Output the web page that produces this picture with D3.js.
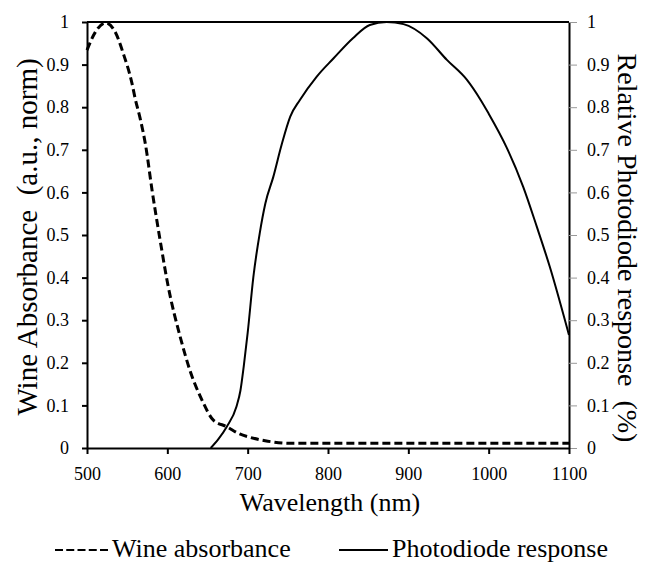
<!DOCTYPE html>
<html>
<head>
<meta charset="utf-8">
<script src="https://cdn.jsdelivr.net/npm/d3@7"></script>
</head>
<body style="margin:0">
<svg id="chart" width="647" height="563" font-family="Liberation Serif"></svg>
<script>
// Wine absorption spectrum (normalised)
const absWavelength = [500, 510, 523, 535, 545, 556, 560, 566, 573, 581, 591, 601, 616, 628, 643, 657, 674, 690, 703, 725, 752, 800, 900, 1000, 1100];
const absValue      = [0.934, 0.975, 0.998, 0.977, 0.927, 0.856, 0.82, 0.775, 0.71, 0.605, 0.488, 0.38, 0.261, 0.183, 0.113, 0.066, 0.05, 0.033, 0.025, 0.016, 0.011, 0.011, 0.011, 0.011, 0.011];

// Relative photodiode spectral response
const pdWavelength = [654, 664, 674, 686, 691, 695, 700, 707, 715, 722, 732, 742, 753, 765, 786, 807, 831, 852, 873, 894, 923, 948, 973, 990, 1000, 1022, 1043, 1060, 1076, 1100];
const pdValue      = [0, 0.022, 0.05, 0.097, 0.135, 0.19, 0.27, 0.40, 0.504, 0.574, 0.637, 0.71, 0.778, 0.817, 0.872, 0.915, 0.962, 0.993, 1.0, 0.995, 0.962, 0.911, 0.864, 0.817, 0.785, 0.707, 0.613, 0.519, 0.426, 0.265];

const xTicks = [500, 600, 700, 800, 900, 1000, 1100];
const yTicks = [0, 0.1, 0.2, 0.3, 0.4, 0.5, 0.6, 0.7, 0.8, 0.9, 1];
const yTickLabel = d => d === 0 ? "0" : d === 1 ? "1" : d3.format(".1f")(d);

const FONT = "Liberation Serif";

const svg = d3.select("#chart");
const L = 87, R = 569, T = 22, B = 448;

const x = d3.scaleLinear().domain([500, 1100]).range([L, R]);
const yL = d3.scaleLinear().domain([0, 1]).range([B, T]);
const yR = d3.scaleLinear().domain([0, 1]).range([B, T]);

// frame top line
svg.append("line").attr("x1", L).attr("x2", R).attr("y1", T).attr("y2", T)
  .attr("stroke", "#000").attr("stroke-width", 2);

function styleTicks(g) {
  g.attr("font-family", FONT).attr("font-size", 18);
  g.selectAll(".tick text").attr("font-family", FONT).attr("font-size", 18).attr("fill", "#000");
}

// left axis
const gL = svg.append("g").attr("transform", `translate(${L},0)`)
  .call(d3.axisLeft(yL).tickValues(yTicks).tickFormat(yTickLabel).tickSize(5).tickPadding(13).tickSizeOuter(0));
gL.select(".domain").attr("stroke-width", 2);
gL.selectAll(".tick line").attr("stroke-width", 2);
styleTicks(gL);

// right axis
const gR = svg.append("g").attr("transform", `translate(${R},0)`)
  .call(d3.axisRight(yR).tickValues(yTicks).tickFormat(yTickLabel).tickSize(8).tickPadding(10).tickSizeOuter(0));
gR.select(".domain").attr("stroke-width", 2);
gR.selectAll(".tick line").attr("stroke", "#999").attr("stroke-width", 1);
styleTicks(gR);

// bottom axis
const gB = svg.append("g").attr("transform", `translate(0,${B})`)
  .call(d3.axisBottom(x).tickValues(xTicks).tickFormat(d3.format("d")).tickSize(6).tickPadding(13).tickSizeOuter(0));
gB.select(".domain").attr("stroke-width", 2);
gB.selectAll(".tick line").attr("stroke-width", 2);
styleTicks(gB);

// curves
const absLine = d3.line().x((d, i) => x(absWavelength[i])).y(d => yL(d)).curve(d3.curveMonotoneX);
const pdLine = d3.line().x((d, i) => x(pdWavelength[i])).y(d => yR(d)).curve(d3.curveMonotoneX);

svg.append("path").attr("d", absLine(absValue))
  .attr("fill", "none").attr("stroke", "#000").attr("stroke-width", 3).attr("stroke-dasharray", "8,4");
svg.append("path").attr("d", pdLine(pdValue))
  .attr("fill", "none").attr("stroke", "#000").attr("stroke-width", 2);

function label(sel, size) {
  return sel.attr("font-family", FONT).attr("font-size", size).attr("fill", "#000");
}

// axis titles
label(svg.append("text").attr("x", (L + R) / 2 + 2).attr("y", 511).attr("text-anchor", "middle"), 26)
  .text("Wavelength (nm)");

label(svg.append("text").attr("transform", `translate(37,237) rotate(-90)`).attr("text-anchor", "middle"), 29)
  .text("Wine Absorbance \u00A0(a.u., norm)");

label(svg.append("text").attr("transform", `translate(618,248) rotate(90)`).attr("text-anchor", "middle"), 28)
  .text("Relative Photodiode response \u00A0(%)");

// legend
const lg = svg.append("g");
lg.append("line").attr("x1", 55).attr("x2", 108).attr("y1", 550).attr("y2", 550)
  .attr("stroke", "#000").attr("stroke-width", 2).attr("stroke-dasharray", "8,3.25");
label(lg.append("text").attr("x", 112).attr("y", 557), 26).text("Wine absorbance");
lg.append("line").attr("x1", 339).attr("x2", 388).attr("y1", 550).attr("y2", 550)
  .attr("stroke", "#000").attr("stroke-width", 2);
label(lg.append("text").attr("x", 392).attr("y", 557), 26).text("Photodiode response");
</script>
</body>
</html>
